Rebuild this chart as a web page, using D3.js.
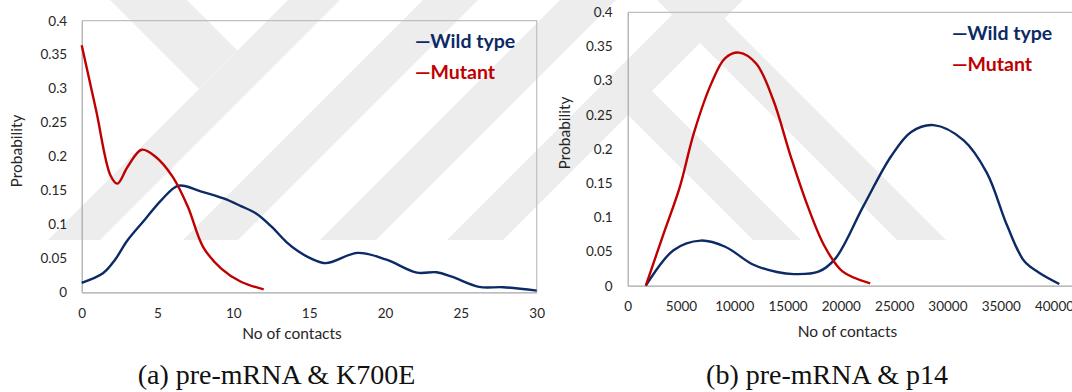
<!DOCTYPE html>
<meta charset="utf-8">
<script src="https://d3js.org/d3.v7.min.js"></script>
<style>
  body { margin: 0; background: #fff; }
  text { font-family: Lato, "Open Sans", sans-serif; }
</style>
<div id="fig"></div>
<script>
// ---- data ----
var yTicks = [0, 0.05, 0.1, 0.15, 0.2, 0.25, 0.3, 0.35, 0.4];

// (a) pre-mRNA & K700E
var aTicks = [0, 5, 10, 15, 20, 25, 30];
var aWildX = [0, 1.4, 2.2, 3, 4.2, 5.3, 6.4, 7.8, 9.4, 10.5, 11.5, 12.5, 13.5, 14.3, 15.1, 16.1, 18.2, 20.1, 22.1, 23.4, 24.4, 26.2, 27.8, 30];
var aWildY = [0.014, 0.028, 0.048, 0.076, 0.108, 0.137, 0.157, 0.149, 0.138, 0.127, 0.116, 0.097, 0.074, 0.06, 0.05, 0.043, 0.058, 0.048, 0.029, 0.0295, 0.023, 0.008, 0.0075, 0.0025];
var aMutX = [0, 0.95, 1.9, 2.35, 3.03, 3.95, 4.85, 6, 7, 8, 9.2, 10.5, 12];
var aMutY = [0.364, 0.268, 0.172, 0.16, 0.185, 0.21, 0.2, 0.17, 0.126, 0.067, 0.035, 0.0156, 0.0044];

// (b) pre-mRNA & p14
var bTicks = [0, 5000, 10000, 15000, 20000, 25000, 30000, 35000, 40000];
var bWildX = [1700, 4300, 6850, 9150, 11750, 14000, 15600, 17900, 19500, 22100, 24700, 26600, 28700, 31500, 33700, 35600, 37200, 38600, 40500];
var bWildY = [0, 0.052, 0.066, 0.057, 0.031, 0.020, 0.017, 0.0205, 0.040, 0.116, 0.189, 0.225, 0.235, 0.213, 0.165, 0.088, 0.036, 0.019, 0.0025];
var bMutX = [1700, 3300, 4900, 6200, 7850, 9150, 10450, 12050, 13650, 15300, 16900, 18500, 20150, 22750];
var bMutY = [0, 0.073, 0.145, 0.223, 0.296, 0.333, 0.341, 0.325, 0.272, 0.189, 0.116, 0.057, 0.021, 0.0035];

var seriesNames = ["Wild type", "Mutant"];
var colors = ["#0c2a66", "#c00000"];

var W = 1072, H = 392;
var svg = d3.select("#fig").append("svg")
    .attr("width", W)
    .attr("height", H);

// faint diagonal watermark behind the charts
var wm = svg.append("g").attr("fill", "#ededed");
[[288, 340], [423, 478], [560, 616], [687, 743]].forEach(function(s) {
  wm.append("polygon").attr("points", [[s[0] - 240, 240], [s[1] - 240, 240], [s[1], 0], [s[0], 0]].join(" "));
});
[[657, 706]].forEach(function(d) {
  wm.append("polygon").attr("points", [[d[0], 0], [d[1], 0], [d[1] + 240, 240], [d[0] + 240, 240]].join(" "));
});
wm.append("polygon").attr("points", "110,0 187,0 237.5,50.5 199,89");
wm.append("polygon").attr("points", "600,87 624,63 801,240 753,240");

function panel(opt) {
  var x = d3.scaleLinear().domain(opt.xDomain).range(opt.xRange);
  var y = d3.scaleLinear().domain([0, 0.4]).range(opt.yRange);
  var g = svg.append("g");

  // plot frame (light grey)
  g.append("path")
    .attr("d", "M" + opt.xRange[0] + "," + opt.yRange[1] + "H" + opt.xRange[1] + "V" + opt.yRange[0])
    .attr("fill", "none")
    .attr("stroke", "#bfbfbf")
    .attr("stroke-width", 1.2);

  var yAxis = g.append("g")
    .attr("transform", "translate(" + opt.xRange[0] + ",0)")
    .call(d3.axisLeft(y).tickValues(yTicks).tickSize(0).tickPadding(opt.yPad)
      .tickFormat(function(d) { return +d.toFixed(2); }));
  var xAxis = g.append("g")
    .attr("transform", "translate(0," + opt.yRange[0] + ")")
    .call(d3.axisBottom(x).tickValues(opt.ticks).tickSize(0).tickPadding(opt.xPad)
      .tickFormat(d3.format("d")));

  [xAxis, yAxis].forEach(function(a) {
    a.select(".domain").attr("stroke", "#a6a6a6").attr("stroke-width", 1.2);
    a.selectAll("text").attr("font-size", 13.5).attr("fill", "#262626")
      .style("font-family", "Lato, sans-serif");
  });

  g.append("text")
    .attr("transform", "translate(" + opt.yTitle[0] + "," + opt.yTitle[1] + ") rotate(-90)")
    .attr("text-anchor", "middle")
    .attr("font-size", 15.5)
    .attr("fill", "#262626")
    .text("Probability");

  g.append("text")
    .attr("x", opt.xTitle[0]).attr("y", opt.xTitle[1])
    .attr("text-anchor", "middle")
    .attr("font-size", 15.5)
    .attr("fill", "#262626")
    .text("No of contacts");

  var line = d3.line()
    .x(function(d) { return x(d[0]); })
    .y(function(d) { return y(d[1]); })
    .curve(d3.curveCatmullRom.alpha(0.5));

  opt.series.forEach(function(s, i) {
    g.append("path")
      .datum(d3.zip(s[0], s[1]))
      .attr("fill", "none")
      .attr("stroke", colors[i])
      .attr("stroke-width", 2.4)
      .attr("d", line);
  });

  // legend
  seriesNames.forEach(function(n, i) {
    g.append("text")
      .attr("x", opt.legend[0]).attr("y", opt.legend[1] + i * 31)
      .attr("font-size", 19.5)
      .attr("font-weight", "bold")
      .attr("fill", colors[i])
      .text("\u2014" + n);
  });

  svg.append("text")
    .attr("x", opt.caption[0]).attr("y", opt.caption[1])
    .attr("text-anchor", "middle")
    .attr("font-size", 28)
    .style("font-family", "'Liberation Serif', 'DejaVu Serif', serif")
    .attr("fill", "#111")
    .text(opt.captionText);
}

panel({
  xDomain: [0, 30], xRange: [81.7, 536.7], yRange: [292.3, 20.7],
  ticks: aTicks, yPad: 14.5, xPad: 16.5,
  yTitle: [22, 151], xTitle: [292, 339],
  series: [[aWildX, aWildY], [aMutX, aMutY]],
  legend: [415, 48],
  caption: [276.5, 384], captionText: "(a) pre-mRNA & K700E"
});

// right panel: plot area runs past the picture's right edge (axis goes on to 45000)
panel({
  xDomain: [0, 45000], xRange: [627.7, 1107.3], yRange: [285.7, 12.3],
  ticks: bTicks, yPad: 15, xPad: 16,
  yTitle: [570, 133], xTitle: [847.5, 337],
  series: [[bWildX, bWildY], [bMutX, bMutY]],
  legend: [952, 40],
  caption: [827, 384], captionText: "(b) pre-mRNA & p14"
});
</script>
